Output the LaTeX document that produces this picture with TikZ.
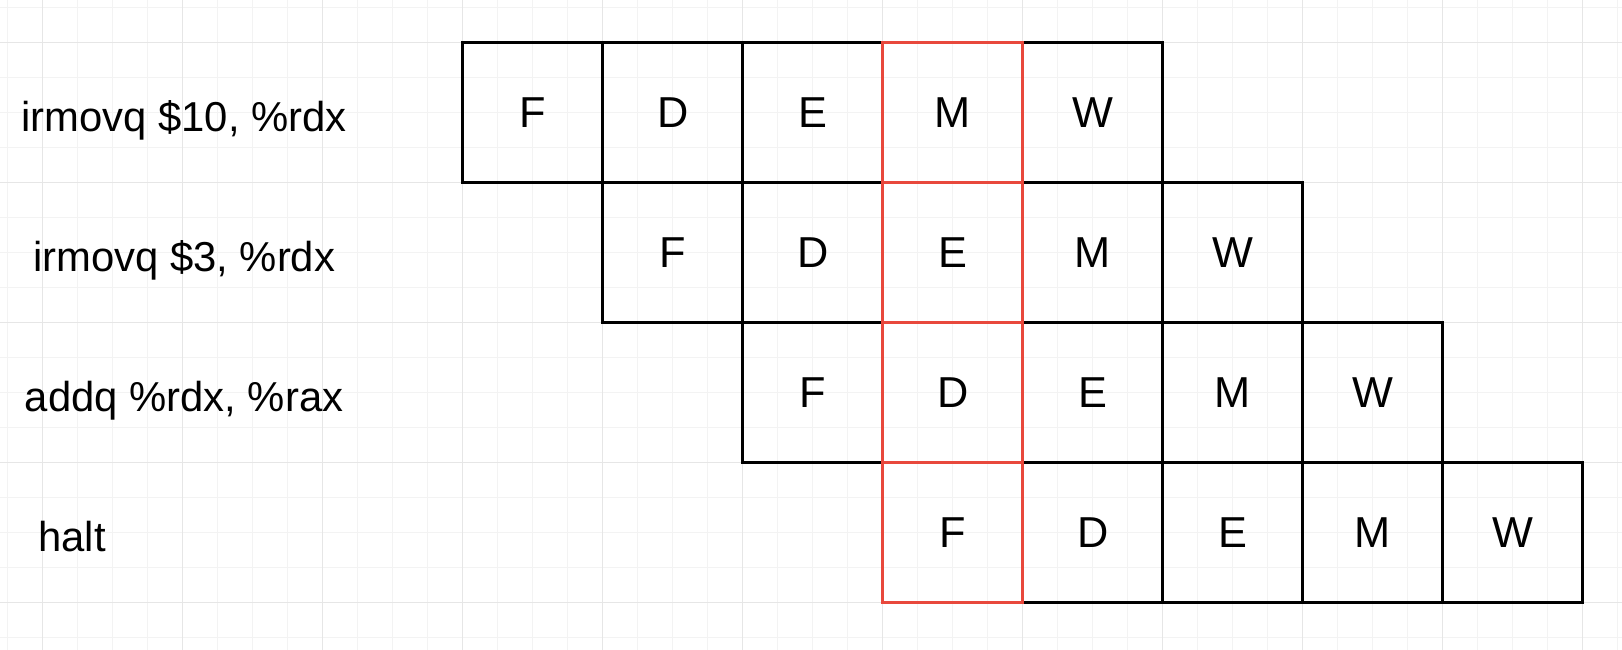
\documentclass[tikz,border=0pt]{standalone}
\usepackage{fontspec}
\setmainfont{Liberation Sans}
\definecolor{hazard}{RGB}{232,72,60}
\definecolor{minorgrid}{RGB}{243,243,243}
\definecolor{majorgrid}{RGB}{230,230,230}
\tikzset{
  stagebox/.style={draw, line width=0.5pt, minimum size=1cm, inner sep=0pt, outer sep=0pt,
    font=\fontsize{8.8}{10}\selectfont},
  instr/.style={anchor=base, font=\fontsize{8.5}{10}\selectfont},
}
\begin{document}
\begin{tikzpicture}

            \useasboundingbox (-0.305,0.305) rectangle (11.281,-4.338);
            \draw[minorgrid, line width=0.25pt, step=0.25] (-0.305,-4.338) grid (11.281,0.305);
            \draw[majorgrid, line width=0.25pt, step=1] (-0.305,-4.338) grid (11.281,0.305);
            % pipeline stages, one row per instruction
            \foreach \r in {0,...,3}
              \foreach \s/\l in {0/F,1/D,2/E,3/M,4/W}
                \node[stagebox] (c\r\s) at (3.5+\r+\s,-0.5-\r) {\l};
            % the cycle where all four meet
            \foreach \r in {0,...,3} {
              \pgfmathtruncatemacro\s{3-\r}
              \draw[hazard, line width=0.5pt] (c\r\s.north west) rectangle (c\r\s.south east);
            }
            \node[instr] (i0) at (1.01,-0.636) {irmovq \$10, \%rdx};
            \node[instr] (i1) at (1.01,-1.636) {irmovq \$3, \%rdx};
            \node[instr] (i2) at (1.01,-2.636) {addq \%rdx, \%rax};
            \node[instr] (i3) at (0.21,-3.636) {halt};
            \end{tikzpicture}
\end{document}
